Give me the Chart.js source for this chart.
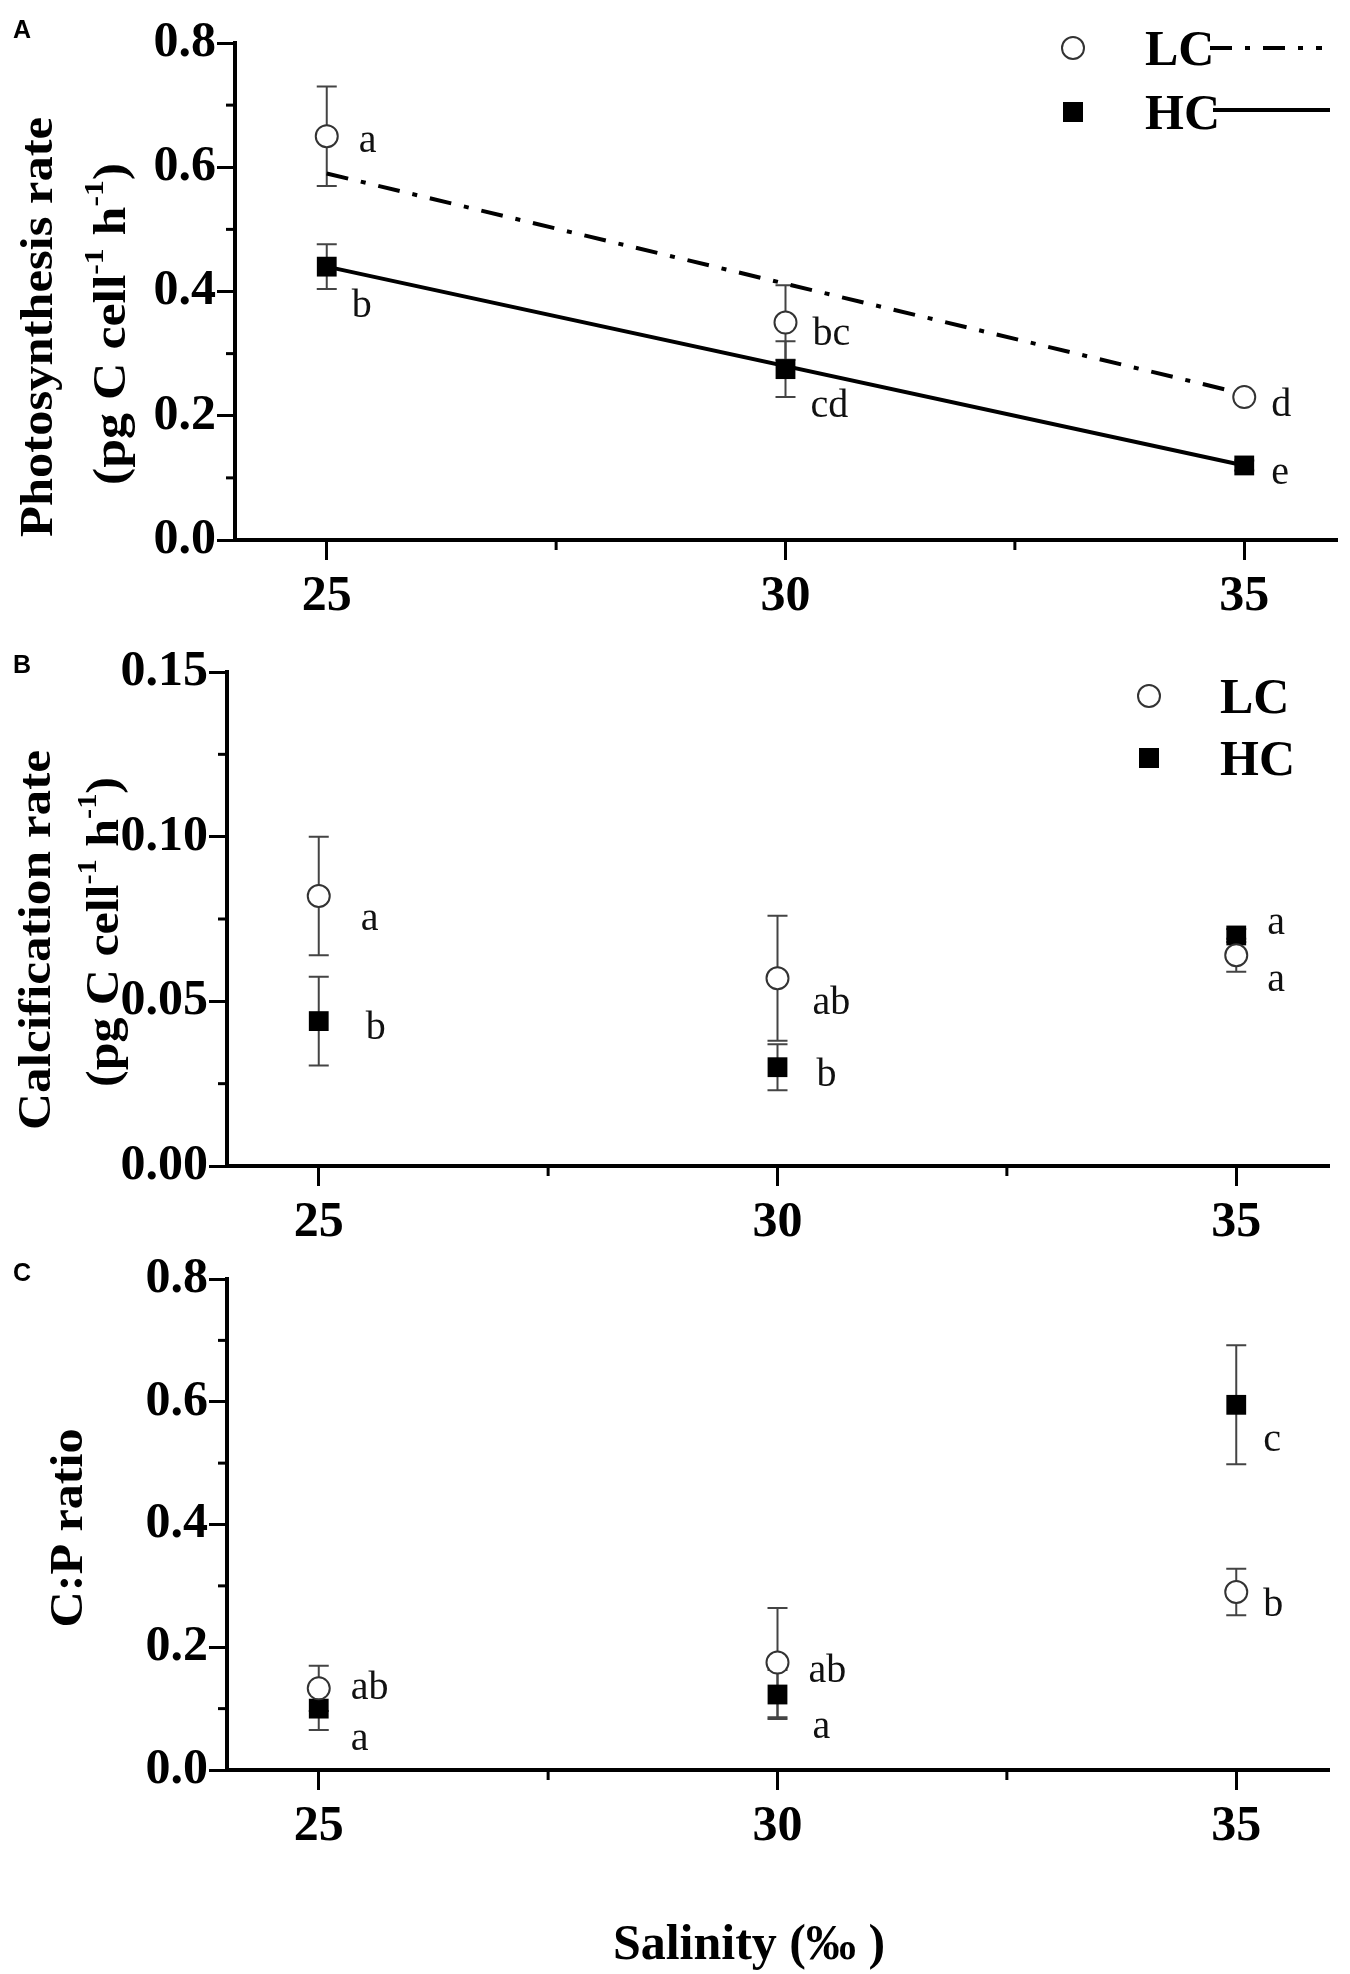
<!DOCTYPE html>
<html>
<head>
<meta charset="utf-8">
<script src="https://cdn.jsdelivr.net/npm/chart.js@4.4.1/dist/chart.umd.min.js"></script>
<style>
  html, body { margin: 0; padding: 0; background: #fff; }
  .panel { position: absolute; left: 0; width: 1350px; }
  #pA { top: 0; height: 640px; }
  #pB { top: 640px; height: 610px; }
  #pC { top: 1250px; height: 724px; }
</style>
</head>
<body>
<div class="panel" id="pA"><canvas id="chartA"></canvas></div>
<div class="panel" id="pB"><canvas id="chartB"></canvas></div>
<div class="panel" id="pC"><canvas id="chartC"></canvas></div>
<script>
// salinity levels (x axis)
const salinity = [25, 30, 35];
const fitX = [25, 35];

// A - photosynthesis rate
const photoLC = [0.65, 0.35, 0.23];
const photoLCerr = [0.08, 0.06, 0.008];
const photoHC = [0.44, 0.275, 0.12];
const photoHCerr = [0.036, 0.045, 0.008];
const photoLCfit = [0.59, 0.235];
const photoHCfit = [0.44, 0.12];
const photoLCletters = ['a', 'bc', 'd'];
const photoHCletters = ['b', 'cd', 'e'];

// B - calcification rate
const calcLC = [0.082, 0.057, 0.064];
const calcLCerr = [0.018, 0.019, 0.005];
const calcHC = [0.044, 0.030, 0.070];
const calcHCerr = [0.0135, 0.007, 0.002];
const calcLCletters = ['a', 'ab', 'a'];
const calcHCletters = ['b', 'b', 'a'];

// C - C:P ratio
const cpLC = [0.133, 0.175, 0.29];
const cpLCerr = [0.037, 0.089, 0.038];
const cpHC = [0.10, 0.123, 0.595];
const cpHCerr = [0.035, 0.04, 0.097];
const cpLCletters = ['ab', 'ab', 'b'];
const cpHCletters = ['a', 'a', 'c'];

const SERIF = "'Liberation Serif', 'Times New Roman', serif";
const LC_DASH = [22, 13, 5, 13];

const isMult = (v, step) => Math.abs(v / step - Math.round(v / step)) < 1e-6;
const pts = (ys, xs) => ys.map((y, i) => ({ x: (xs || salinity)[i], y: y }));

function drawRotated(ctx, segs, bx, cy, targetLen) {
  let total = 0;
  segs.forEach(s => {
    ctx.font = 'bold ' + (s.sup ? 28 : 46) + 'px ' + SERIF;
    s.w = ctx.measureText(s.t).width;
    total += s.w;
  });
  ctx.save();
  ctx.translate(bx, cy);
  ctx.rotate(-Math.PI / 2);
  ctx.scale(targetLen / total, 1);
  ctx.fillStyle = '#000';
  ctx.textAlign = 'left';
  ctx.textBaseline = 'alphabetic';
  let x = -total / 2;
  segs.forEach(s => {
    ctx.font = 'bold ' + (s.sup ? 28 : 46) + 'px ' + SERIF;
    ctx.fillText(s.t, x, s.sup ? -22 : 0);
    x += s.w;
  });
  ctx.restore();
}

function makeDecor(cfg) {
  return {
    id: 'decor',
    beforeDatasetsDraw(chart) {
      const ctx = chart.ctx, xs = chart.scales.x, ys = chart.scales.y;
      ctx.save();
      ctx.strokeStyle = '#444';
      ctx.lineWidth = 2;
      cfg.errors.forEach(e => {
        salinity.forEach((s, i) => {
          const px = xs.getPixelForValue(s);
          const t = ys.getPixelForValue(e.v[i] + e.err[i]);
          const b = ys.getPixelForValue(e.v[i] - e.err[i]);
          ctx.beginPath();
          ctx.moveTo(px, t); ctx.lineTo(px, b);
          ctx.moveTo(px - 10, t); ctx.lineTo(px + 10, t);
          ctx.moveTo(px - 10, b); ctx.lineTo(px + 10, b);
          ctx.stroke();
        });
      });
      ctx.restore();
    },
    afterDatasetsDraw(chart) {
      const ctx = chart.ctx, xs = chart.scales.x, ys = chart.scales.y;
      ctx.save();
      // minor ticks
      ctx.strokeStyle = '#000';
      ctx.lineWidth = 3;
      xs.ticks.forEach(t => {
        if (isMult(t.value, 5)) return;
        const px = xs.getPixelForValue(t.value);
        ctx.beginPath(); ctx.moveTo(px, xs.top); ctx.lineTo(px, xs.top + 10); ctx.stroke();
      });
      ys.ticks.forEach(t => {
        if (isMult(t.value, cfg.yMajor)) return;
        const py = ys.getPixelForValue(t.value);
        ctx.beginPath(); ctx.moveTo(ys.right - 9, py); ctx.lineTo(ys.right, py); ctx.stroke();
      });
      // significance letters
      ctx.fillStyle = '#111';
      ctx.font = '40px ' + SERIF;
      ctx.textAlign = 'left';
      ctx.textBaseline = 'middle';
      cfg.letters.forEach(l => {
        salinity.forEach((s, i) => {
          ctx.fillText(l.txt[i], xs.getPixelForValue(s) + l.off[i][0], ys.getPixelForValue(l.v[i]) + l.off[i][1]);
        });
      });
      // legend
      const lg = cfg.legend;
      if (lg) {
        ctx.font = 'bold 50px ' + SERIF;
        ctx.textBaseline = 'alphabetic';
        ctx.fillStyle = '#000';
        ctx.fillText('LC', lg.tx, lg.cy + 17);
        ctx.fillText('HC', lg.tx, lg.sy + 17);
        ctx.beginPath();
        ctx.arc(lg.mx, lg.cy, 11, 0, Math.PI * 2);
        ctx.fillStyle = '#fff'; ctx.fill();
        ctx.strokeStyle = '#333'; ctx.lineWidth = 2; ctx.stroke();
        ctx.fillStyle = '#000';
        ctx.fillRect(lg.mx - 10, lg.sy - 10, 20, 20);
        if (lg.lines) {
          ctx.strokeStyle = '#000';
          ctx.lineWidth = 4;
          ctx.setLineDash(LC_DASH);
          ctx.beginPath(); ctx.moveTo(1210, lg.cy); ctx.lineTo(1322, lg.cy); ctx.stroke();
          ctx.setLineDash([]);
          ctx.beginPath(); ctx.moveTo(1213, lg.sy - 2); ctx.lineTo(1330, lg.sy - 2); ctx.stroke();
        }
      }
      // panel letter
      ctx.fillStyle = '#000';
      ctx.font = 'bold 25px "Liberation Sans", Arial, sans-serif';
      ctx.textAlign = 'center';
      ctx.textBaseline = 'middle';
      ctx.fillText(cfg.panel[0], cfg.panel[1], cfg.panel[2]);
      // axis titles
      cfg.yTitles.forEach(t => drawRotated(ctx, t.segs, t.bx, t.cy, t.len));
      if (cfg.xTitle) {
        ctx.font = 'bold 50px ' + SERIF;
        ctx.fillStyle = '#000';
        ctx.textAlign = 'center';
        ctx.textBaseline = 'middle';
        ctx.fillText('Salinity (\u2030 )', cfg.xTitle[0], cfg.xTitle[1]);
      }
      ctx.restore();
    }
  };
}

function makePanel(id, p) {
  const markerLC = {
    data: pts(p.lc), showLine: false, pointStyle: 'circle', pointRadius: 11, pointHoverRadius: 11,
    pointBackgroundColor: '#fff', pointBorderColor: '#333', pointBorderWidth: 2
  };
  const markerHC = {
    data: pts(p.hc), showLine: false, pointStyle: 'rect', pointRadius: 14, pointHoverRadius: 14,
    pointBackgroundColor: '#000', pointBorderColor: '#000', pointBorderWidth: 0
  };
  const datasets = [markerLC, markerHC];
  if (p.lcFit) {
    datasets.push({ type: 'line', data: pts(p.lcFit, fitX), showLine: true, pointRadius: 0,
      borderColor: '#000', borderWidth: 4, borderDash: LC_DASH, fill: false });
    datasets.push({ type: 'line', data: pts(p.hcFit, fitX), showLine: true, pointRadius: 0,
      borderColor: '#000', borderWidth: 4, fill: false });
  }
  const tickFont = { family: SERIF, size: 50, weight: 'bold', lineHeight: 1.2 };
  return new Chart(document.getElementById(id), {
    type: 'scatter',
    data: { datasets: datasets },
    options: {
      responsive: true,
      maintainAspectRatio: false,
      animation: false,
      events: [],
      layout: { padding: { left: 0, right: 1350 - p.area[1], top: p.area[2], bottom: 0 } },
      plugins: { legend: { display: false }, tooltip: { enabled: false } },
      scales: {
        x: {
          type: 'linear', min: 24, max: 36,
          border: { display: true, width: 4, color: '#000' },
          grid: { drawOnChartArea: false, tickLength: 20, lineWidth: 3, tickWidth: 3, color: '#000',
            tickColor: c => isMult(c.tick.value, 5) ? '#000' : 'rgba(0,0,0,0)' },
          ticks: { stepSize: 2.5, includeBounds: false, autoSkip: false, maxRotation: 0, padding: 7,
            color: '#000', font: tickFont, callback: v => isMult(v, 5) ? String(v) : '' },
          afterFit: s => { s.height = p.height - p.area[3]; }
        },
        y: {
          min: 0, max: p.yMax,
          border: { display: true, width: 4, color: '#000' },
          grid: { drawOnChartArea: false, tickLength: 18, lineWidth: 3, tickWidth: 3, color: '#000',
            tickColor: c => isMult(c.tick.value, p.yMajor) ? '#000' : 'rgba(0,0,0,0)' },
          ticks: { stepSize: p.yStep, padding: 1, color: '#000',
            font: { family: SERIF, size: 50, weight: 'bold', lineHeight: 1 },
            callback: v => isMult(v, p.yMajor) ? v.toFixed(p.dec) : '' },
          afterFit: s => { s.width = p.area[0]; }
        }
      }
    },
    plugins: [makeDecor(p.decor)]
  });
}

const unitSegs = [
  { t: '(pg C cell' }, { t: '-1', sup: true }, { t: ' h' }, { t: '-1', sup: true }, { t: ')' }
];

makePanel('chartA', {
  height: 640, area: [235, 1337, 43, 540],
  yMax: 0.8, yStep: 0.1, yMajor: 0.2, dec: 1,
  lc: photoLC, hc: photoHC, lcFit: photoLCfit, hcFit: photoHCfit,
  decor: {
    yMajor: 0.2,
    errors: [{ v: photoLC, err: photoLCerr }, { v: photoHC, err: photoHCerr }],
    letters: [
      { v: photoLC, txt: photoLCletters, off: [[32, 5], [27, 12], [27, 8]] },
      { v: photoHC, txt: photoHCletters, off: [[25, 40], [25, 37], [27, 8]] }
    ],
    legend: { mx: 1073, tx: 1145, cy: 48, sy: 112, lines: true },
    panel: ['A', 22, 31],
    yTitles: [
      { segs: [{ t: 'Photosynthesis rate' }], bx: 52, cy: 327, len: 420 },
      { segs: unitSegs.map(s => Object.assign({}, s)), bx: 125, cy: 324, len: 322 }
    ]
  }
});

makePanel('chartB', {
  height: 610, area: [227, 1328, 32, 526],
  yMax: 0.15, yStep: 0.025, yMajor: 0.05, dec: 2,
  lc: calcLC, hc: calcHC,
  decor: {
    yMajor: 0.05,
    errors: [{ v: calcLC, err: calcLCerr }, { v: calcHC, err: calcHCerr }],
    letters: [
      { v: calcLC, txt: calcLCletters, off: [[42, 24], [35, 25], [31, 25]] },
      { v: calcHC, txt: calcHCletters, off: [[47, 7], [39, 8], [31, -12]] }
    ],
    legend: { mx: 1149, tx: 1220, cy: 56, sy: 118, lines: false },
    panel: ['B', 22, 26],
    yTitles: [
      { segs: [{ t: 'Calcification rate' }], bx: 50, cy: 300, len: 380 },
      { segs: unitSegs.map(s => Object.assign({}, s)), bx: 118, cy: 292, len: 310 }
    ]
  }
});

makePanel('chartC', {
  height: 724, area: [227, 1328, 29, 520],
  yMax: 0.8, yStep: 0.1, yMajor: 0.2, dec: 1,
  lc: cpLC, hc: cpHC,
  decor: {
    yMajor: 0.2,
    errors: [{ v: cpLC, err: cpLCerr }, { v: cpHC, err: cpHCerr }],
    letters: [
      { v: cpLC, txt: cpLCletters, off: [[32, 0], [31, 9], [27, 13]] },
      { v: cpHC, txt: cpHCletters, off: [[32, 31], [35, 33], [27, 36]] }
    ],
    legend: null,
    panel: ['C', 22, 24],
    yTitles: [
      { segs: [{ t: 'C:P ratio' }], bx: 82, cy: 278, len: 199 }
    ],
    xTitle: [749, 696]
  }
});
</script>
</body>
</html>
